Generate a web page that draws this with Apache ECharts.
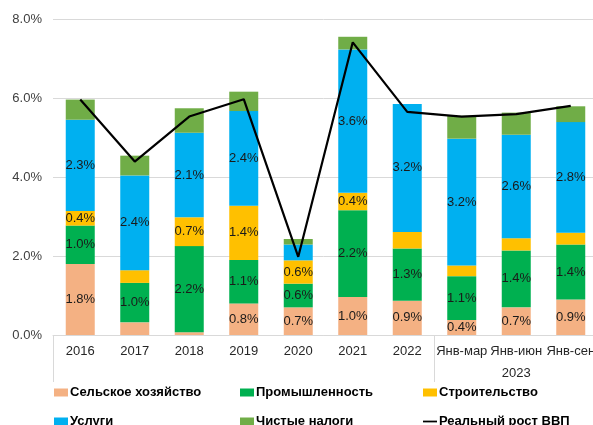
<!DOCTYPE html>
<html>
<head>
<meta charset="utf-8">
<script src="https://cdn.jsdelivr.net/npm/echarts@6/dist/echarts.min.js"></script>
<style>
  html, body { margin: 0; padding: 0; background: #fff; }
  #main { width: 593px; height: 425px; }
</style>
</head>
<body>
<div id="main"></div>
<script>
// категории
const categories = ['2016', '2017', '2018', '2019', '2020', '2021', '2022', 'Янв-мар', 'Янв-июн', 'Янв-сен']
const yearRow = ['', '', '', '', '', '', '', '', '2023', '']

// вклад в рост, п.п.
const agri = [1.8, 0.32, 0.07, 0.8, 0.7, 0.96, 0.87, 0.38, 0.7, 0.9]
const industry = [0.97, 1.0, 2.18, 1.1, 0.6, 2.2, 1.32, 1.11, 1.44, 1.39]
const construction = [0.37, 0.32, 0.73, 1.37, 0.59, 0.44, 0.42, 0.27, 0.31, 0.3]
const services = [2.31, 2.4, 2.14, 2.4, 0.4, 3.63, 3.24, 3.21, 2.62, 2.8]
const taxes = [0.51, 0.5, 0.62, 0.49, 0.14, 0.32, 0, 0.58, 0.56, 0.4]
const gdp = [5.96, 4.39, 5.53, 5.97, 1.98, 7.41, 5.65, 5.53, 5.59, 5.8]

// какие подписи не показывать
const hideAgri = [1, 2]
const hideIndustry = []
const hideConstr = [1, 6, 7, 8, 9]
const hideServices = [4]

const FONT = '"Liberation Sans", Arial, sans-serif'

function barSeries(name, values, color, hidden, noLabels) {
  return {
    name: name,
    type: 'bar',
    stack: 'gdp',
    barWidth: 29,
    itemStyle: { color: color },
    label: {
      show: !noLabels,
      position: 'inside',
      fontFamily: FONT,
      fontSize: 13,
      color: '#1a1a1a',
      formatter: function (p) {
        if (hidden && hidden.indexOf(p.dataIndex) >= 0) return ''
        return p.value.toFixed(1) + '%'
      }
    },
    data: values
  }
}

// одна легенда на каждый пункт, 2 строки по 3
function legendItem(name, left, top, icon) {
  return {
    left: left,
    top: top,
    itemWidth: 14,
    itemHeight: 8,
    icon: icon || 'rect',
    data: [name],
    textStyle: { fontFamily: FONT, fontSize: 13, fontWeight: 'bold', color: '#000', padding: [0, 0, 0, -3] }
  }
}

let myChart = echarts.init(document.getElementById('main'))

myChart.setOption({
  animation: false,
  textStyle: { fontFamily: FONT },
  legend: [
    legendItem('Сельское хозяйство', 49, 381),
    legendItem('Промышленность', 235, 381),
    legendItem('Строительство', 418, 381),
    legendItem('Услуги', 49, 410),
    legendItem('Чистые налоги', 235, 410),
    legendItem('Реальный рост ВВП', 418, 410, 'path://M0,0 H16 V2 H0 Z')
  ],
  grid: { left: 53, top: 19, width: 545, height: 316, containLabel: false, outerBoundsMode: 'none' },
  xAxis: [
    {
      type: 'category',
      data: categories,
      axisLine: { lineStyle: { color: '#d9d9d9' } },
      axisTick: {
        show: true,
        length: 47,
        interval: function (i) { return i === 0 || i === 7 },
        lineStyle: { color: '#d9d9d9' }
      },
      axisLabel: { color: '#262626', fontSize: 13, margin: 10, interval: 0, fontFamily: FONT }
    },
    {
      type: 'category',
      position: 'bottom',
      offset: 22,
      data: yearRow,
      axisLine: { show: false },
      axisTick: { show: false },
      axisLabel: { color: '#262626', fontSize: 13, margin: 10, interval: 0, fontFamily: FONT }
    }
  ],
  yAxis: {
    type: 'value',
    min: 0,
    max: 8,
    interval: 2,
    axisLine: { show: false },
    axisTick: { show: false },
    splitLine: { lineStyle: { color: '#d9d9d9' } },
    axisLabel: {
      color: '#404040',
      fontSize: 13,
      margin: 11,
      fontFamily: FONT,
      formatter: function (v) { return v.toFixed(1) + '%' }
    }
  },
  series: [
    barSeries('Сельское хозяйство', agri, '#F4B183', hideAgri),
    barSeries('Промышленность', industry, '#00B050', hideIndustry),
    barSeries('Строительство', construction, '#FFC000', hideConstr),
    barSeries('Услуги', services, '#00B0F0', hideServices),
    barSeries('Чистые налоги', taxes, '#70AD47', null, true),
    {
      name: 'Реальный рост ВВП',
      type: 'line',
      symbol: 'none',
      z: 5,
      lineStyle: { color: '#000', width: 2.2 },
      itemStyle: { color: '#000' },
      data: gdp
    }
  ]
})
</script>
</body>
</html>
